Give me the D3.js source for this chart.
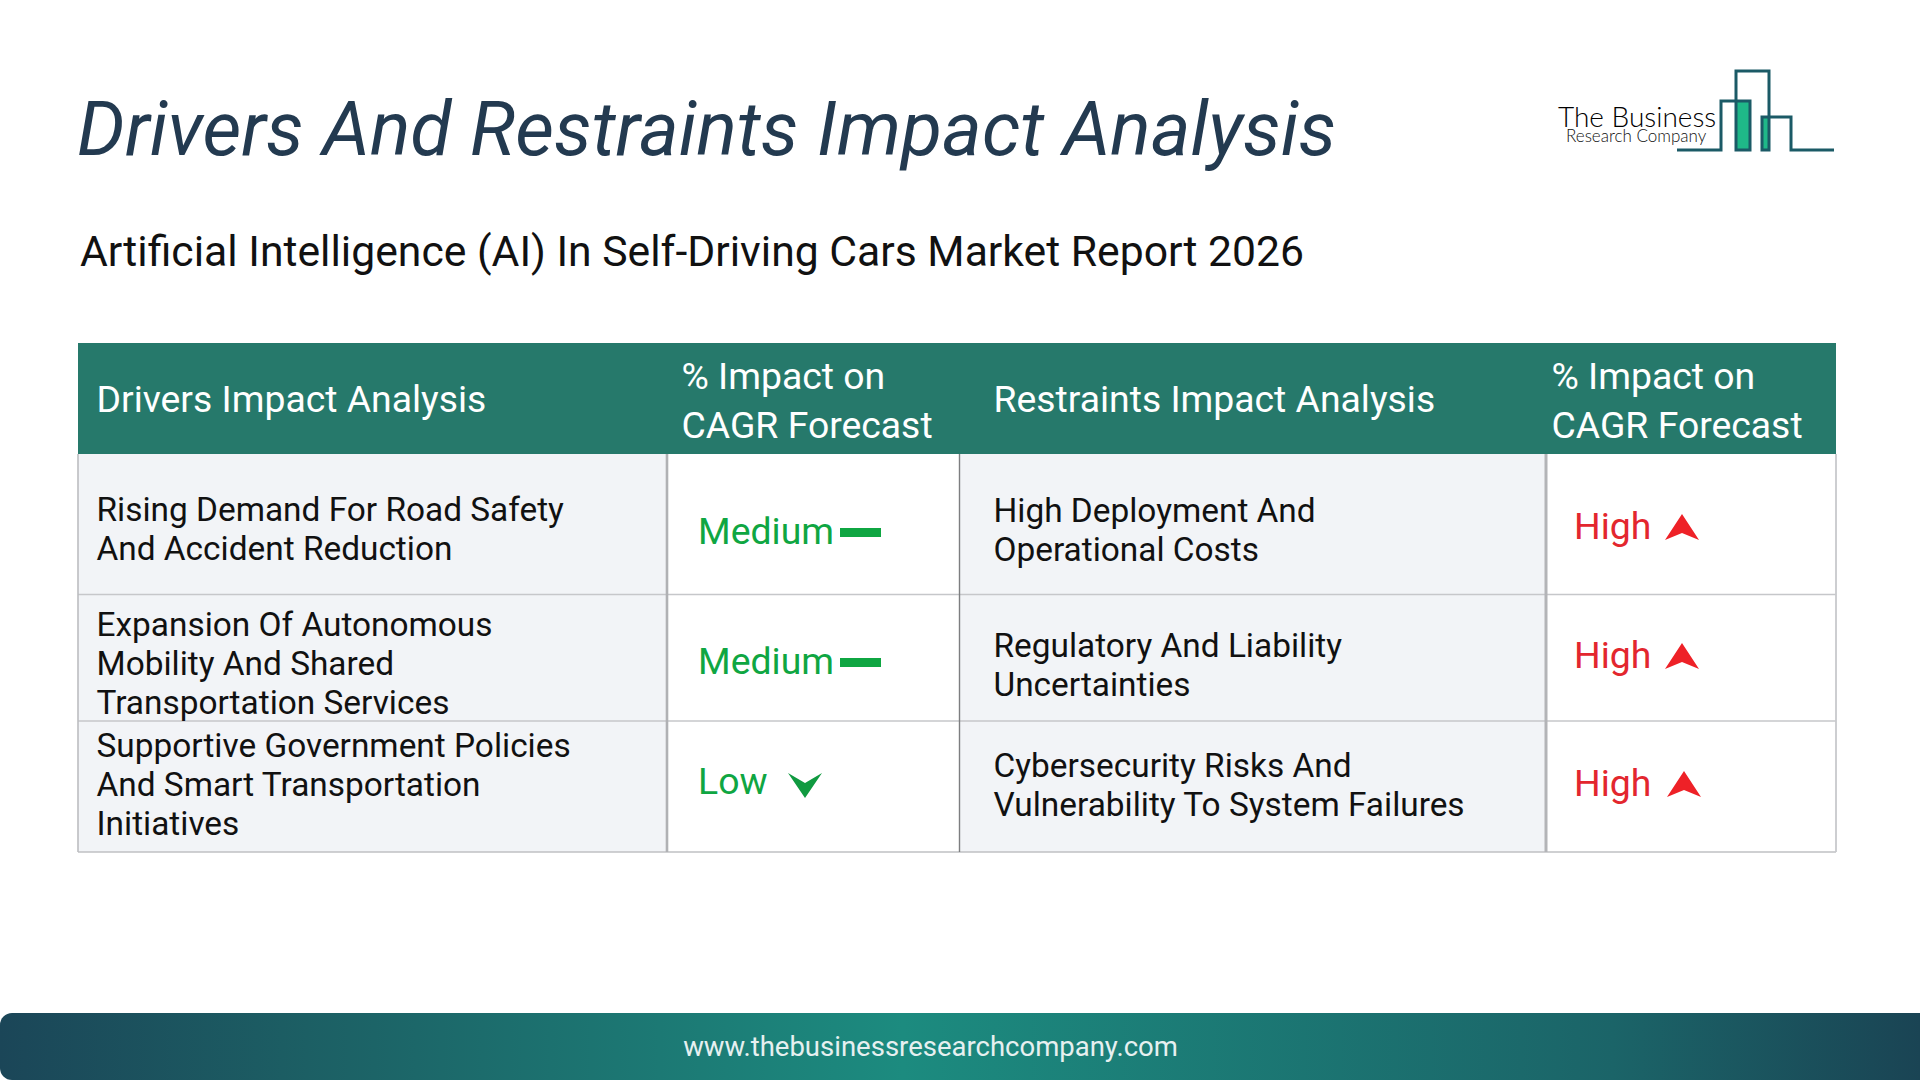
<!DOCTYPE html>
<html><head><meta charset="utf-8">
<script src="https://cdn.jsdelivr.net/npm/d3@7"></script>
<style>html,body{margin:0;padding:0;background:#fff;overflow:hidden}svg{display:block}text{font-family:Roboto,sans-serif}</style>
</head><body><div id="c"></div>
<script>
const titleText = "Drivers And Restraints Impact Analysis";
const subtitleText = "Artificial Intelligence (AI) In Self-Driving Cars Market Report 2026";
const footerText = "www.thebusinessresearchcompany.com";
const headers = [["Drivers Impact Analysis"],["% Impact on","CAGR Forecast"],["Restraints Impact Analysis"],["% Impact on","CAGR Forecast"]];
const drivers = [["Rising Demand For Road Safety","And Accident Reduction"],["Expansion Of Autonomous","Mobility And Shared","Transportation Services"],["Supportive Government Policies","And Smart Transportation","Initiatives"]];
const driverImpact = ["Medium","Medium","Low"];
const restraints = [["High Deployment And","Operational Costs"],["Regulatory And Liability","Uncertainties"],["Cybersecurity Risks And","Vulnerability To System Failures"]];
const restraintImpact = ["High","High","High"];

const W=1920,H=1080;
const svg=d3.select("#c").append("svg").attr("width",W).attr("height",H);
const defs=svg.append("defs");
const grad=defs.append("linearGradient").attr("id","fg").attr("gradientUnits","userSpaceOnUse").attr("x1",0).attr("x2",W).attr("y1",0).attr("y2",0);
[[0,"#1b4658"],[0.16,"#1c5f64"],[0.47,"#1c8b7f"],[0.84,"#1b6468"],[1,"#1a4454"]].forEach(s=>grad.append("stop").attr("offset",s[0]).attr("stop-color",s[1]));

// titles
svg.append("text").attr("x",77).attr("y",155).attr("font-size",75.4).attr("font-style","italic").attr("fill","#233a50").text(titleText);
svg.append("text").attr("x",80).attr("y",266).attr("font-size",42.7).attr("fill","#111").text(subtitleText);

// table geometry
const colEdges=[78,667,959.5,1546,1836];
const rowEdges=[454,594.5,721,852];
const x=d3.scaleLinear().domain(d3.range(colEdges.length)).range(colEdges);
const y=d3.scaleLinear().domain(d3.range(rowEdges.length)).range(rowEdges);
const headTop=343;

const rows=d3.range(drivers.length);
rows.forEach(r=>{
  [0,1,2,3].forEach(c=>{
    svg.append("rect").attr("x",x(c)).attr("y",y(r)).attr("width",x(c+1)-x(c)).attr("height",y(r+1)-y(r))
      .attr("fill",c%2===0?"#f2f4f7":"#ffffff");
  });
});
svg.append("rect").attr("x",x(0)).attr("y",headTop).attr("width",x(4)-x(0)).attr("height",y(0)-headTop).attr("fill","#26796b");

rows.slice(1).forEach(r=>svg.append("line").attr("x1",x(0)).attr("x2",x(4)).attr("y1",y(r)).attr("y2",y(r)).attr("stroke","#c6c7ca").attr("stroke-width",1.6));
svg.append("line").attr("x1",x(0)).attr("x2",x(4)).attr("y1",y(3)).attr("y2",y(3)).attr("stroke","#bfc0c3").attr("stroke-width",1.6);
[[0,"#bcbdc0",1.6],[1,"#b0b1b4",2.6],[2,"#7d7e80",1.4],[3,"#b3b4b7",3],[4,"#c8c9cc",1.8]].forEach(d=>
  svg.append("line").attr("x1",x(d[0])).attr("x2",x(d[0])).attr("y1",y(0)).attr("y2",y(3)).attr("stroke",d[1]).attr("stroke-width",d[2]));

// header text
const headX=[96.5,681.5,993.5,1551.5];
const multi=(sel,lines,xx,y0,lh)=>{lines.forEach((l,i)=>sel.append("text").attr("x",xx).attr("y",y0+i*lh).text(l));};
const hg=svg.append("g").attr("fill","#fff").attr("font-size",37.35);
headers.forEach((h,i)=>{ multi(hg,h,headX[i],h.length===1?412:389,48.5); });

// body text
const bg=svg.append("g").attr("fill","#111").attr("font-size",33.4);
const lh=39.2;
const leftFirst=[521,636,757], rightFirst=[522,657,777];
drivers.forEach((d,i)=>multi(bg,d,96.5,leftFirst[i],lh));
restraints.forEach((d,i)=>multi(bg,d,993.5,rightFirst[i],lh));

// impact labels and markers
const GREEN="#0fa642", RED="#e3262e";
const shapeLine=d3.line();
const impactColor=d3.scaleOrdinal(["Medium","Low","High"],[GREEN,GREEN,RED]);
const ig=svg.append("g").attr("font-size",37.4);
const dBase=[544,674,794], rBase=[539,668,796];
driverImpact.forEach((v,i)=>{
  ig.append("text").attr("x",698).attr("y",dBase[i]).attr("fill",impactColor(v)).text(v);
  if(v==="Medium"){
    svg.append("rect").attr("x",840).attr("y",dBase[i]-16).attr("width",41).attr("height",9).attr("fill",GREEN);
  } else {
    svg.append("path").attr("fill","#109a40").attr("d",shapeLine([[788,dBase[i]-21],[805,dBase[i]-11],[822,dBase[i]-21],[805,dBase[i]+4]])+"Z");
  }
});
restraintImpact.forEach((v,i)=>{
  ig.append("text").attr("x",1574).attr("y",rBase[i]).attr("fill",impactColor(v)).text(v);
  const ax=i===2?1684:1682;
  svg.append("path").attr("fill","#ee2127").attr("d",shapeLine([[ax-17,rBase[i]+1],[ax,rBase[i]-25],[ax+17,rBase[i]+1],[ax,rBase[i]-6]])+"Z");
});

// logo
const lg=svg.append("g");
lg.append("rect").attr("x",1736).attr("y",101).attr("width",14).attr("height",49).attr("fill","#1fb888");
lg.append("rect").attr("x",1762).attr("y",117).attr("width",7).attr("height",33).attr("fill","#1fb888");
lg.append("path").attr("fill","none").attr("stroke","#1b5a66").attr("stroke-width",3)
 .attr("d",shapeLine([[1677,150],[1721,150],[1721,101],[1750,101],[1750,150],[1736,150],[1736,71],[1769,71],[1769,150],[1762,150],[1762,117],[1791,117],[1791,150],[1834,150]]));
lg.append("text").attr("x",1558).attr("y",127).attr("font-size",28).attr("font-weight",300).attr("fill","#000").attr("style","font-family:Lato").text("The Business");
lg.append("text").attr("x",1566).attr("y",142).attr("font-size",17).attr("font-weight",300).attr("fill","#111").attr("style","font-family:Lato").text("Research Company");

// footer: rounded on the left only
const fp=d3.path(), fr=12, ft=1013, fb=1080;
fp.moveTo(fr,ft); fp.lineTo(W,ft); fp.lineTo(W,fb); fp.lineTo(fr,fb);
fp.arcTo(0,fb,0,fb-fr,fr); fp.lineTo(0,ft+fr); fp.arcTo(0,ft,fr,ft,fr); fp.closePath();
svg.append("path").attr("d",fp.toString()).attr("fill","url(#fg)");
svg.append("text").attr("x",930.5).attr("y",1056).attr("text-anchor","middle").attr("font-size",27.5).attr("fill","#e6f0f0").text(footerText);
</script></body></html>
